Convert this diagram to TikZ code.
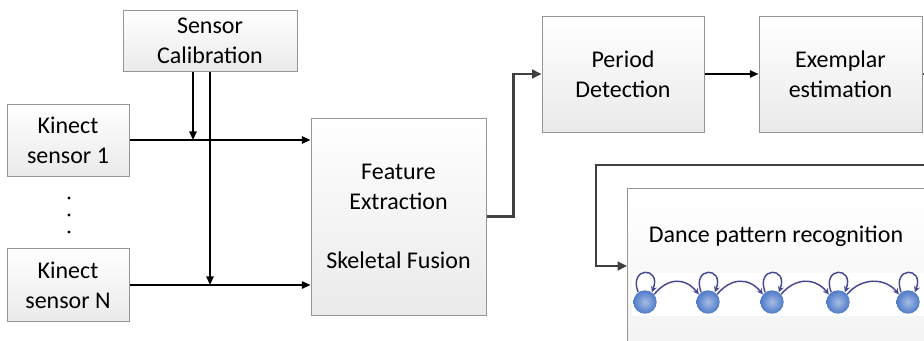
\documentclass[tikz,border=0pt]{standalone}
\usepackage{fontspec}
\setmainfont{Carlito}
\usetikzlibrary{arrows.meta}
\definecolor{boxline}{RGB}{150,150,150}
\definecolor{boxbot}{RGB}{234,234,234}
\definecolor{flowgrey}{RGB}{64,64,64}
\definecolor{hmmblue}{RGB}{78,122,200}
\definecolor{hmmarc}{RGB}{70,72,150}

\tikzset{
  blk/.style={draw=boxline, line width=0.75pt, top color=white, bottom color=boxbot,
    align=center, inner sep=0pt, font=\fontsize{18}{22.5}\selectfont},
  flow/.style={line width=1.3pt, -{Triangle[length=6.5pt,width=5.5pt]}},
  bigflow/.style={draw=flowgrey, line width=2pt, -{Triangle[length=7pt,width=6.5pt]}},
  state/.style={circle, inner sep=0pt, minimum size=17.5pt, inner color=hmmblue!50!white, outer color=hmmblue},
  hmmedge/.style={draw=hmmarc, line width=1.1pt, -{Stealth[length=4.5pt,width=4.5pt]}}
}

\begin{document}
\begin{tikzpicture}[x=0.75pt,y=0.75pt,yscale=-1,xscale=1]
\useasboundingbox (0,0) rectangle (924,340);
\clip (0,0) rectangle (924,340);

% input side
\node[blk, minimum width=130.5pt, minimum height=45.75pt] (calib) at (210,40.5) {Sensor\\Calibration};
\node[blk, minimum width=91.5pt, minimum height=54pt] (kin1) at (68,140) {Kinect\\sensor 1};
\node[blk, minimum width=91.5pt, minimum height=54.75pt] (kinN) at (68,285) {Kinect\\sensor N};
\foreach \y in {198,215,232}
  \fill (69,\y) circle (1.6);

\node[blk, minimum width=131.25pt, minimum height=147.75pt] (feat) at (398.5,216.5)
  {Feature\\Extraction\\[22pt]Skeletal Fusion};

% analysis
\node[blk, minimum width=121.5pt, minimum height=87pt] (period) at (623,74) {Period\\Detection};
\node[blk, minimum width=122.25pt, minimum height=87pt] (exemplar) at (840.5,74) {Exemplar\\estimation};

% recognition box, runs past the edge
\node[blk, top color=white, bottom color=boxbot!70, minimum width=249.75pt, minimum height=144pt] (dance) at (793.5,284) {};
\node[font=\fontsize{18}{22.5}\selectfont, inner sep=0pt] (dancetxt) at (776,236) {Dance pattern recognition};
\fill[white] (632,273) rectangle (930,316);

% connectors
\draw[flow] (kin1.east) -- (kin1.east -| feat.west);
\draw[flow] (kinN.east) -- (kinN.east -| feat.west);
\draw[flow] ([xshift=-12.75pt]calib.south) -- ([xshift=-12.75pt]calib.south |- kin1.east);
\draw[flow] (calib.south) -- (calib.south |- kinN.east);
\fill (calib.south |- kin1.east) circle (1.8);

\draw[bigflow] (feat.east) -- ++(27,0) |- (period.west);
\draw[flow] (period.east) -- (exemplar.west);

\coordinate (turn) at (596,165);
\coordinate (dancein) at (627,266);
\draw[bigflow] (exemplar.east) -- ++(30,0) |- (turn) |- (dancein);

% HMM chain
\foreach \i/\x in {1/645,2/708,3/772,4/838,5/908}
  \node[state] (s\i) at (\x,302) {};
\foreach \i in {1,...,5}
  \draw[hmmedge] (s\i.125) .. controls +(-10,-26) and +(10,-26) .. (s\i.55);
\foreach \i/\j in {1/2,2/3,3/4,4/5}
  \draw[hmmedge] (s\i.40) .. controls +(14,-17) and +(-14,-17) .. (s\j.140);

\end{tikzpicture}
\end{document}
